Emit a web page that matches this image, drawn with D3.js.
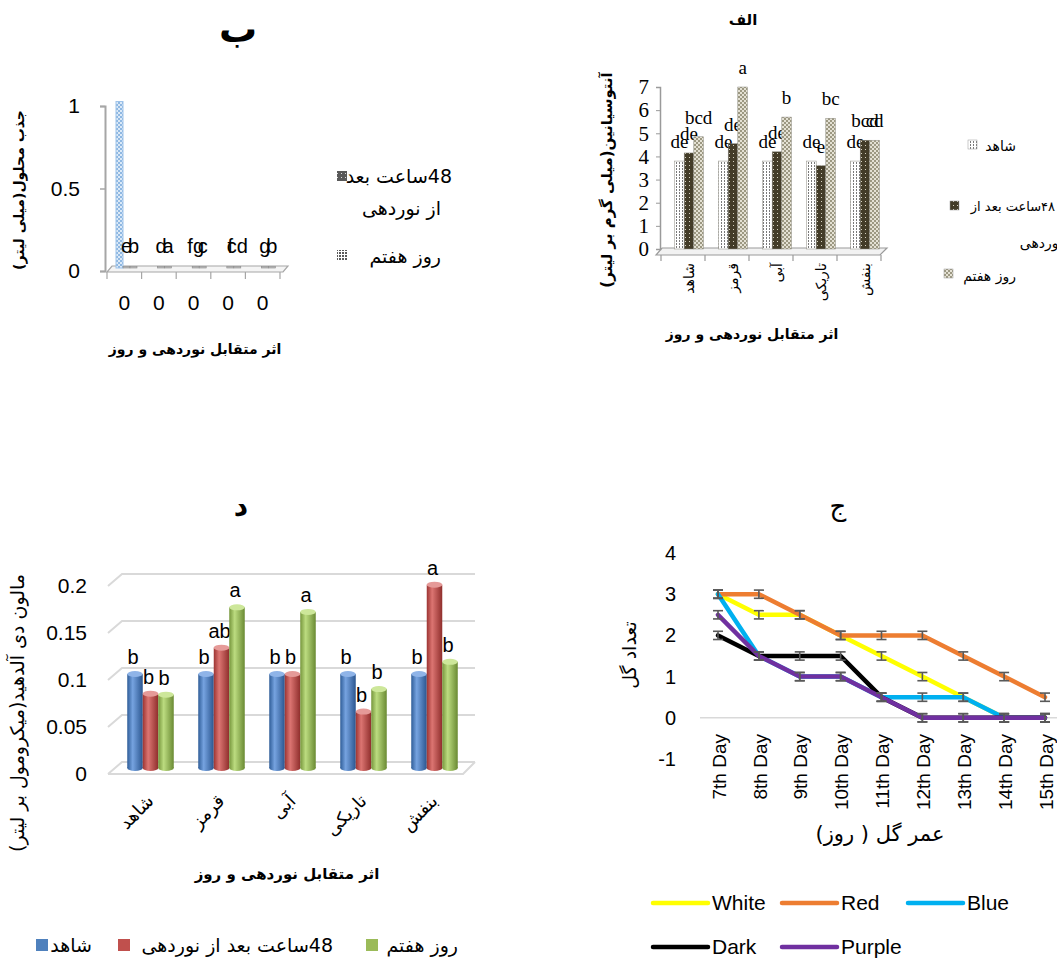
<!DOCTYPE html>
<html><head><meta charset="utf-8">
<script src="https://cdn.jsdelivr.net/npm/d3@7"></script>
<style>body{margin:0;background:#fff}svg{display:block}</style>
</head><body><svg id="c" width="1057" height="959"></svg>
<script>
// ---------- Panel الف : anthocyanin ----------
const catsA = ["شاهد","قرمز","آبی","تاریکی","بنفش"];
const seriesA = ["شاهد","۴۸ساعت بعد از نوردهی","روز هفتم"];
const anthoControl = [3.8,3.8,3.8,3.8,3.8];
const antho48h = [4.15,4.55,4.2,3.6,4.7];
const antho7d = [4.85,7.0,5.7,5.65,4.7];
const lettersAControl = ["de","de","de","de","de"];
const lettersA48h = ["de","de","de","e","bcd"];
const lettersA7d = ["bcd","a","b","bc","cd"];
const ticksA = [0,1,2,3,4,5,6,7];

// ---------- Panel ب : solution uptake ----------
const catsB = ["0","0","0","0","0"];
const absorbControl = [1,0,0,0,0];
const absorb48h = [0,0,0,0,0];
const absorb7d = [0,0,0,0,0];
const lettersB48h = ["e","d","fg","f","g"];
const lettersB7d = ["b","a","c","cd","b"];
const ticksB = [0,0.5,1];

// ---------- Panel ج : flower count ----------
const days = ["7th Day","8th Day","9th Day","10th Day","11th Day","12th Day","13th Day","14th Day","15th Day"];
const lineNames = ["White","Red","Blue","Dark","Purple"];
const flowerWhite = [3,2.5,2.5,2,1.5,1,0.5,0,0];
const flowerRed = [3,3,2.5,2,2,2,1.5,1,0.5];
const flowerBlue = [3,1.5,1,1,0.5,0.5,0.5,0,0];
const flowerDark = [2,1.5,1.5,1.5,0.5,0,0,0,0];
const flowerPurple = [2.5,1.5,1,1,0.5,0,0,0,0];
const flowerErr = [0.1,0.1,0.1,0.1,0.1,0.1,0.1,0.1,0.1];
const ticksC = [-1,0,1,2,3,4];

// ---------- Panel د : malondialdehyde ----------
const catsD = ["شاهد","قرمز","آبی","تاریکی","بنفش"];
const seriesD = ["شاهد","48ساعت بعد از نوردهی","روز هفتم"];
const mdaControl = [0.1,0.1,0.1,0.1,0.1];
const mda48h = [0.079,0.128,0.1,0.06,0.195];
const mda7d = [0.078,0.171,0.166,0.084,0.113];
const lettersDControl = ["b","b","b","b","b"];
const lettersD48h = ["b","ab","b","b","a"];
const lettersD7d = ["b","a","a","b","b"];
const ticksD = [0,0.05,0.1,0.15,0.2];

// ================= drawing =================
const FA = "'DejaVu Sans', sans-serif";
const SERIF = "'Liberation Serif', serif";
const SANS = "'Liberation Sans', Arial, sans-serif";
const plain = d => (d < 0 ? "-" + Math.abs(d) : String(d));
const svg = d3.select("#c");
const defs = svg.append("defs");

function pat(id, w, h, build){
  const p = defs.append("pattern").attr("id",id).attr("patternUnits","userSpaceOnUse").attr("width",w).attr("height",h);
  build(p);
}
function r(p,x,y,w,h,f){p.append("rect").attr("x",x).attr("y",y).attr("width",w).attr("height",h).attr("fill",f);}
pat("pA0",3,3,p=>{r(p,0,0,3,3,"#fff");r(p,1,0,1,2,"#7a7a7a");});
pat("pA1",4,4,p=>{r(p,0,0,4,4,"#433c28");r(p,1,1,1,1,"#d6d2c0");});
pat("pA2",4,4,p=>{r(p,0,0,4,4,"#9c9882");r(p,0,0,2,2,"#e4e1d4");r(p,2,2,2,2,"#e4e1d4");});
pat("pB0",4,4,p=>{r(p,0,0,4,4,"#dbe9f7");r(p,0,0,2,2,"#8fb8e2");r(p,2,2,2,2,"#8fb8e2");});
pat("pB1",4,4,p=>{r(p,0,0,4,4,"#595959");r(p,1,1,1,1,"#dddddd");});
pat("pB2",3,3,p=>{r(p,0,0,3,3,"#ffffff");r(p,0,0,2,2,"#5a5a5a");});

function ftext(g,x,y,str,size,opt={}){
  const t = g.append("text").attr("x",x).attr("y",y).text(str)
    .attr("font-family",opt.family||FA).attr("font-size",size)
    .attr("fill",opt.fill||"#000");
  if(opt.rtl!==false) t.attr("direction","rtl");
  if(opt.anchor) t.attr("text-anchor",opt.anchor);
  if(opt.bold) t.attr("font-weight","bold");
  if(opt.rot!==undefined) t.attr("transform",`rotate(${opt.rot},${x},${y})`);
  return t;
}

// ---------- Panel الف ----------
{
  const g = svg.append("g");
  const xA = d3.scaleBand().domain(catsA).range([667,887]);
  const yA = d3.scaleLinear().domain([0,7]).range([249,87]);
  const bw = 9.6;
  const vals = [anthoControl, antho48h, antho7d];
  const labs = [lettersAControl, lettersA48h, lettersA7d];
  g.append("path").attr("d",`M656,255 L880,255 L887,248 L662,248 Z`).attr("fill","#f2f2f2").attr("stroke","#9a9a9a").attr("stroke-width",1.2);
  const ax = g.append("g").attr("transform","translate(660,0)").call(d3.axisLeft(yA).tickValues(ticksA).tickSize(4).tickPadding(7).tickFormat(plain));
  ax.select(".domain").attr("stroke","#9a9a9a").attr("stroke-width",1.5);
  ax.selectAll(".tick line").attr("stroke","#9a9a9a");
  ax.selectAll("text").attr("font-family",SERIF).attr("font-size",21).attr("fill","#000");
  g.selectAll(".sep").data(d3.range(catsA.length+1)).join("line")
    .attr("x1",i=>xA.range()[0]-6+i*xA.bandwidth()).attr("x2",i=>xA.range()[0]-6+i*xA.bandwidth())
    .attr("y1",255).attr("y2",261).attr("stroke","#9a9a9a").attr("stroke-width",1.2);
  vals.forEach((arr,s)=>{
    g.selectAll(".ba"+s).data(arr).join("rect")
      .attr("x",(d,i)=>xA(catsA[i])+xA.bandwidth()/2+(s-1.5)*bw)
      .attr("y",d=>yA(d)).attr("width",bw).attr("height",d=>yA(0)-yA(d))
      .attr("fill",`url(#pA${s})`).attr("stroke","#8c8a80").attr("stroke-width",0.5);
    g.selectAll(".la"+s).data(labs[s]).join("text")
      .attr("x",(d,i)=>xA(catsA[i])+xA.bandwidth()/2+(s-1)*bw)
      .attr("y",(d,i)=>yA(arr[i])-13).attr("text-anchor","middle")
      .attr("font-family",SERIF).attr("font-size",19).text(d=>d);
  });
  const xa = g.append("g").attr("transform","translate(0,263)").call(d3.axisBottom(xA).tickSize(0));
  xa.select(".domain").remove();
  xa.selectAll("text").attr("font-family",FA).attr("font-size",14).attr("direction","rtl")
    .attr("transform","rotate(-90)").attr("text-anchor","start").attr("x",0).attr("y",0).attr("dy","0.35em");
  ftext(g,743,25,"الف",15,{anchor:"middle",bold:true});
  ftext(g,752,339,"اثر متقابل نوردهی و روز",14,{anchor:"middle",bold:true});
  ftext(g,612,180,"آنتوسیانین(میلی گرم بر لیتر)",15,{anchor:"middle",bold:true,rot:-90});
  const lg = [[968,140,0],[950,201,1],[944,269,2]];
  lg.forEach(([x,y,s])=>g.append("rect").attr("x",x).attr("y",y).attr("width",9).attr("height",9).attr("fill",`url(#pA${s})`).attr("stroke","#999").attr("stroke-width",0.5));
  ftext(g,1016,151,seriesA[0],14,{anchor:"start"});
  ftext(g,1055,211,"۴۸ساعت بعد از",13,{anchor:"start"});
  ftext(g,1063,248,"نوردهی",14,{anchor:"start"});
  ftext(g,1016,281,seriesA[2],14,{anchor:"start"});
}

// ---------- Panel ب ----------
{
  const g = svg.append("g");
  const xB = d3.scaleBand().domain(d3.range(catsB.length)).range([107,280]);
  const yB = d3.scaleLinear().domain([0,1]).range([268,103]);
  const bw = 7;
  g.append("path").attr("d",`M107,272 L283,272 L288,266 L112,266 Z`).attr("fill","#f4f4f4").attr("stroke","#a6a6a6").attr("stroke-width",1.2);
  const ax = g.append("g").attr("transform","translate(105,3)").call(d3.axisLeft(yB).tickValues(ticksB).tickSize(5).tickPadding(20).tickFormat(plain));
  ax.select(".domain").attr("stroke","#a6a6a6").attr("stroke-width",2);
  ax.selectAll(".tick line").attr("stroke","#a6a6a6").attr("stroke-width",1.5);
  ax.selectAll("text").attr("font-family",SANS).attr("font-size",21);
  g.selectAll(".sep").data(d3.range(catsB.length+1)).join("line")
    .attr("x1",i=>107+i*xB.bandwidth()).attr("x2",i=>107+i*xB.bandwidth())
    .attr("y1",272).attr("y2",279).attr("stroke","#a6a6a6").attr("stroke-width",1.2);
  const vals=[absorbControl,absorb48h,absorb7d];
  vals.forEach((arr,s)=>{
    g.selectAll(".bb"+s).data(arr.filter(d=>s>0||d>0)).join("rect")
      .attr("x",(d,i)=>xB(i)+9+s*bw).attr("y",d=>yB(d)-1.5).attr("width",bw)
      .attr("height",d=>yB(0)-yB(d)+1.5)
      .attr("fill",s===0?"url(#pB0)":"#bdbdbd").attr("stroke",s===0?"#9ec3ea":"#8a8a8a").attr("stroke-width",s===0?1:0.6);
  });
  [lettersB48h,lettersB7d].forEach((arr,k)=>{
    g.selectAll(".lb"+k).data(arr).join("text")
      .attr("x",(d,i)=>xB(i)+9+(k+1)*bw+bw/2).attr("y",253).attr("text-anchor","middle")
      .attr("font-family",SANS).attr("font-size",20).text(d=>d);
  });
  const xa = g.append("g").attr("transform","translate(0,292)").call(d3.axisBottom(xB).tickSize(0).tickFormat(i=>catsB[i]));
  xa.select(".domain").remove();
  xa.selectAll("text").attr("font-family",SANS).attr("font-size",21);
  ftext(g,238,42,"ب",38,{anchor:"middle",bold:true});
  ftext(g,195,354,"اثر متقابل نوردهی و روز",14,{anchor:"middle",bold:true});
  ftext(g,24,190,"جذب محلول(میلی لیتر)",14,{anchor:"middle",bold:true,rot:-90});
  g.append("rect").attr("x",337).attr("y",171).attr("width",10).attr("height",10).attr("fill","url(#pB1)");
  g.append("rect").attr("x",337).attr("y",250).attr("width",10).attr("height",10).attr("fill","url(#pB2)");
  ftext(g,452,183,"48ساعت بعد",19,{anchor:"start"});
  ftext(g,441,215,"از نوردهی",19,{anchor:"start"});
  ftext(g,441,263,seriesA[2],19,{anchor:"start"});
}

// ---------- Panel ج ----------
{
  const g = svg.append("g");
  const xC = d3.scalePoint().domain(days).range([718,1045]);
  const yC = d3.scaleLinear().domain([-1,4]).range([759,553]);
  g.append("line").attr("x1",700).attr("x2",1057).attr("y1",yC(0)).attr("y2",yC(0)).attr("stroke","#d9d9d9").attr("stroke-width",1.5);
  const ax = g.append("g").attr("transform","translate(684,0)").call(d3.axisLeft(yC).tickValues(ticksC).tickSize(0).tickPadding(8).tickFormat(plain));
  ax.select(".domain").remove();
  ax.selectAll("text").attr("font-family",SANS).attr("font-size",20);
  const xa = g.append("g").attr("transform","translate(0,728)").call(d3.axisBottom(xC).tickSize(0));
  xa.select(".domain").remove();
  xa.selectAll("text").attr("font-family",SANS).attr("font-size",19)
    .attr("transform","rotate(-90)").attr("text-anchor","end").attr("x",-6).attr("y",0).attr("dy","0.38em");
  const series = [flowerWhite,flowerRed,flowerBlue,flowerDark,flowerPurple];
  const colors = ["#ffff00","#ed7d31","#00b0f0","#000000","#7030a0"];
  const line = d3.line().x((d,i)=>xC(days[i])).y(d=>yC(d));
  series.forEach((arr,s)=>{
    g.append("path").attr("d",line(arr)).attr("fill","none").attr("stroke",colors[s])
      .attr("stroke-width",4.5).attr("stroke-linejoin","round").attr("stroke-linecap","round");
  });
  series.forEach((arr,s)=>{
    const eg = g.append("g").attr("stroke","#595959").attr("stroke-width",1.6);
    arr.forEach((v,i)=>{
      const x=xC(days[i]), e=flowerErr[i];
      eg.append("line").attr("x1",x).attr("x2",x).attr("y1",yC(v+e)).attr("y2",yC(v-e));
      eg.append("line").attr("x1",x-5).attr("x2",x+5).attr("y1",yC(v+e)).attr("y2",yC(v+e));
      eg.append("line").attr("x1",x-5).attr("x2",x+5).attr("y1",yC(v-e)).attr("y2",yC(v-e));
    });
  });
  ftext(g,838,515,"ج",26,{anchor:"middle"});
  ftext(g,880,841,"عمر گل ( روز)",21,{anchor:"middle"});
  ftext(g,636,655,"تعداد گل",19,{anchor:"middle",rot:-90});
  const leg = [[653,903],[782,903],[908,903],[653,947],[782,947]];
  lineNames.forEach((n,s)=>{
    const [x,y]=leg[s];
    g.append("line").attr("x1",x).attr("x2",x+55).attr("y1",y).attr("y2",y).attr("stroke",colors[s]).attr("stroke-width",4.5).attr("stroke-linecap","round");
    g.append("text").attr("x",x+59).attr("y",y+7).attr("font-family",SANS).attr("font-size",21).text(n);
  });
}

// ---------- Panel د ----------
{
  const g = svg.append("g");
  const xD = d3.scaleBand().domain(catsD).range([115,470]);
  const yD = d3.scaleLinear().domain([0,0.2]).range([768,580]);
  const bw = 15.5;
  ticksD.forEach(v=>{
    const y=yD(v);
    g.append("path").attr("d",`M108,${y+6} L122,${y-6} L475,${y-6}`).attr("fill","none").attr("stroke","#d9d9d9").attr("stroke-width",2);
  });
  g.append("path").attr("d",`M108,${yD(0)+6} L463,${yD(0)+6} L475,${yD(0)-6}`).attr("fill","none").attr("stroke","#d9d9d9").attr("stroke-width",2);
  const ax = g.append("g").attr("transform","translate(95,6)").call(d3.axisLeft(yD).tickValues(ticksD).tickSize(0).tickPadding(8).tickFormat(plain));
  ax.select(".domain").remove();
  ax.selectAll("text").attr("font-family",SANS).attr("font-size",21);
  const grads = [["gBl","#2f5d98","#76a3e0","#2b5690"],["gRd","#9c3432","#dc7572","#8f2e2c"],["gGr","#76963c","#bcdc80","#6a8a33"]];
  grads.forEach(([id,a,b,c])=>{
    const lg = defs.append("linearGradient").attr("id",id).attr("x1","0").attr("x2","1").attr("y1","0").attr("y2","0");
    lg.append("stop").attr("offset","0").attr("stop-color",a);
    lg.append("stop").attr("offset","0.35").attr("stop-color",b);
    lg.append("stop").attr("offset","1").attr("stop-color",c);
  });
  const tops = ["#8fb4e8","#e59a98","#cde79a"];
  const vals=[mdaControl,mda48h,mda7d];
  const labs=[lettersDControl,lettersD48h,lettersD7d];
  vals.forEach((arr,s)=>{
    arr.forEach((v,i)=>{
      const x = xD(catsD[i])+xD.bandwidth()/2+(s-1.5)*bw;
      const top=yD(v), base=yD(0);
      g.append("ellipse").attr("cx",x+bw/2).attr("cy",base).attr("rx",bw/2).attr("ry",3).attr("fill",`url(#${grads[s][0]})`);
      g.append("rect").attr("x",x).attr("y",top).attr("width",bw).attr("height",base-top).attr("fill",`url(#${grads[s][0]})`);
      g.append("ellipse").attr("cx",x+bw/2).attr("cy",top).attr("rx",bw/2).attr("ry",3).attr("fill",tops[s]);
    });
    g.selectAll(".ld"+s).data(labs[s]).join("text")
      .attr("x",(d,i)=>xD(catsD[i])+xD.bandwidth()/2+(s-1)*bw-2)
      .attr("y",(d,i)=>yD(arr[i])-10).attr("text-anchor","middle")
      .attr("font-family",SANS).attr("font-size",20).text(d=>d);
  });
  const xa = g.append("g").attr("transform","translate(0,792)").call(d3.axisBottom(xD).tickSize(0));
  xa.select(".domain").remove();
  xa.selectAll("text").attr("font-family",FA).attr("font-size",18).attr("direction","rtl")
    .attr("text-anchor","start").attr("x",0).attr("y",0).attr("dy","0.8em").attr("transform","translate(-6,0) rotate(-45)");
  ftext(g,241,516,"د",28,{anchor:"middle",bold:true});
  ftext(g,287,879,"اثر متقابل نوردهی و روز",15,{anchor:"middle",bold:true});
  ftext(g,24,713,"مالون دی آلدهید(میکرومول بر لیتر)",19,{anchor:"middle",rot:-90});
  const sw = [[36,"#4f81bd",92,seriesD[0]],[118,"#c0504d",333,seriesD[1]],[366,"#9bbb59",458,seriesD[2]]];
  sw.forEach(([x,c,tx,t])=>{
    g.append("rect").attr("x",x).attr("y",939).attr("width",12).attr("height",12).attr("fill",c);
    ftext(g,tx,952,t,19,{anchor:"start"});
  });
}
</script></body></html>
